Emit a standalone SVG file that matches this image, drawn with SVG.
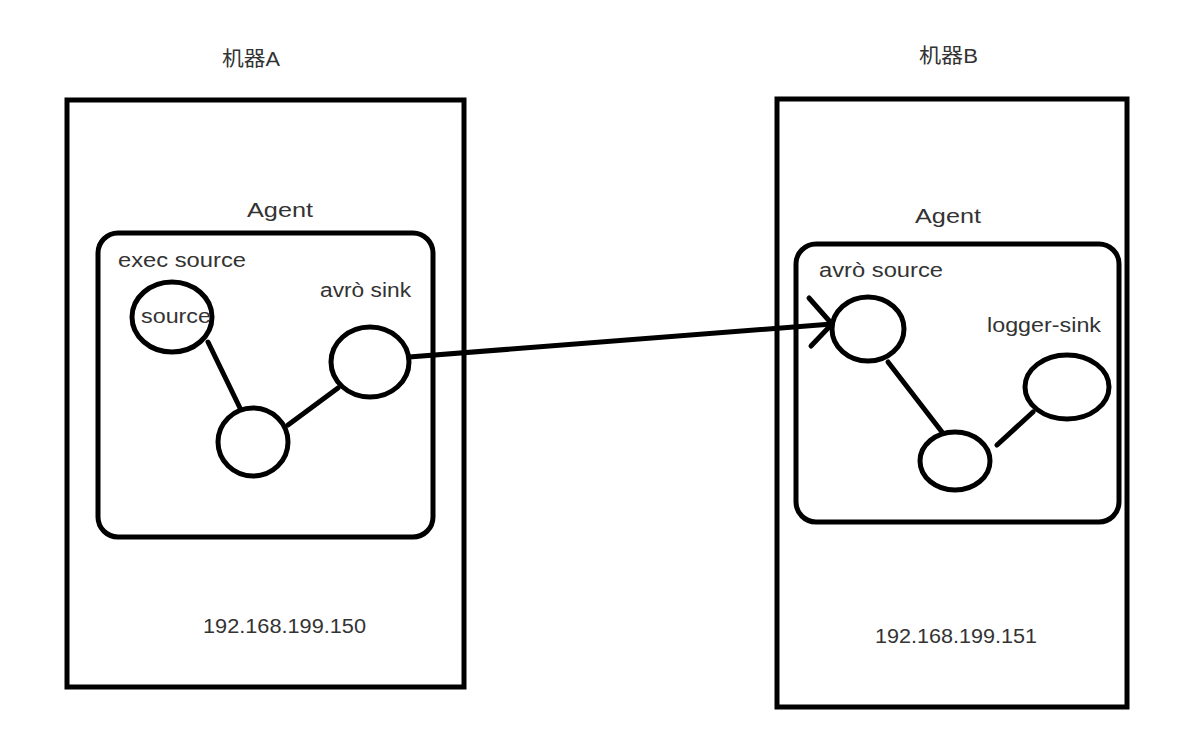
<svg xmlns="http://www.w3.org/2000/svg" width="1184" height="732" viewBox="0 0 1184 732">
<style>
.box{fill:none;stroke:#000;stroke-width:5}
.agent{fill:none;stroke:#000;stroke-width:5}
.node{fill:#fff;stroke:#000;stroke-width:5}
.edge{fill:none;stroke:#000;stroke-width:5;stroke-linecap:round}
text{font-family:"Liberation Sans","Noto Sans CJK SC",sans-serif;fill:#333;font-size:20px}
</style>
<rect width="1184" height="732" fill="#fff"/>
<g id="machineA">
<rect class="box" x="67" y="100" width="397" height="587"/>
<text x="222" y="66" textLength="58" lengthAdjust="spacingAndGlyphs">机器A</text>
<text x="203" y="633" font-size="21" textLength="163" lengthAdjust="spacingAndGlyphs">192.168.199.150</text>
</g>
<g id="agentA">
<rect class="agent" x="98" y="233" width="335" height="304" rx="20"/>
<text x="247" y="217" textLength="66" lengthAdjust="spacingAndGlyphs">Agent</text>
<text x="118" y="267" textLength="128" lengthAdjust="spacingAndGlyphs">exec source</text>
<text x="320" y="297" textLength="91" lengthAdjust="spacingAndGlyphs">avrò sink</text>
</g>
<g id="machineB">
<rect class="box" x="777" y="99" width="350" height="608"/>
<text x="919" y="63" textLength="59" lengthAdjust="spacingAndGlyphs">机器B</text>
<text x="875" y="643" font-size="21" textLength="162" lengthAdjust="spacingAndGlyphs">192.168.199.151</text>
</g>
<g id="agentB">
<rect class="agent" x="796" y="244" width="323" height="278" rx="20"/>
<text x="915" y="223" textLength="66" lengthAdjust="spacingAndGlyphs">Agent</text>
<text x="819" y="277" textLength="124" lengthAdjust="spacingAndGlyphs">avrò source</text>
<text x="987" y="332" textLength="114" lengthAdjust="spacingAndGlyphs">logger-sink</text>
</g>
<g id="connectors">
<line class="edge" x1="208" y1="342" x2="240" y2="408"/>
<line class="edge" x1="288" y1="425" x2="338" y2="388"/>
<line class="edge" x1="409" y1="357" x2="832" y2="324"/>
<polyline class="edge" points="809,298 832,324 811,346"/>
<line class="edge" x1="888" y1="362" x2="942" y2="432"/>
<line class="edge" x1="997" y1="445" x2="1033" y2="412"/>
</g>
<g id="execSource">
<ellipse class="node" cx="172" cy="317" rx="40" ry="35"/>
<text x="141" y="323" textLength="70" lengthAdjust="spacingAndGlyphs">source</text>
</g>
<g id="channelA"><ellipse class="node" cx="253" cy="442" rx="35" ry="34"/></g>
<g id="avroSink"><ellipse class="node" cx="370" cy="362" rx="39" ry="35"/></g>
<g id="avroSource"><ellipse class="node" cx="868" cy="329" rx="36" ry="32"/></g>
<g id="channelB"><ellipse class="node" cx="955" cy="461" rx="35" ry="29"/></g>
<g id="loggerSink"><ellipse class="node" cx="1067" cy="387" rx="42" ry="32"/></g>
</svg>
